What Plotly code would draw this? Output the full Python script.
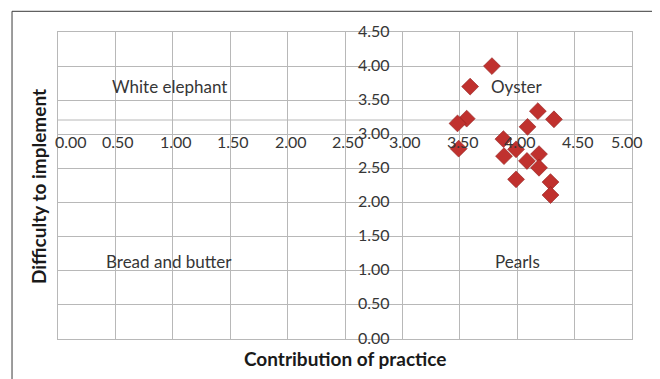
import plotly.graph_objects as go

# ---- data ----
contribution = [3.78, 3.59, 3.56, 3.48, 3.49, 4.18, 4.32, 4.09, 3.88, 3.99,
                3.885, 4.19, 4.085, 4.19, 3.99, 4.29, 4.29]
difficulty = [4.00, 3.70, 3.23, 3.16, 2.79, 3.34, 3.22, 3.11, 2.93, 2.78,
              2.68, 2.71, 2.61, 2.51, 2.34, 2.30, 2.11]

x_ticks = [0.0, 0.5, 1.0, 1.5, 2.0, 2.5, 3.0, 3.5, 4.0, 4.5, 5.0]
y_ticks = [0.0, 0.5, 1.0, 1.5, 2.0, 2.5, 3.0, 3.5, 4.0, 4.5]
x_tick_labels = ["0.00", "0.50", "1.00", "1.50", "2.00", "2.50", "3.00", "3.50", "4.00", "4.50", "5.00"]
y_tick_labels = ["0.00", "0.50", "1.00", "1.50", "2.00", "2.50", "3.00", "3.50", "4.00", "4.50"]

x_cross = 3.0        # where the vertical axis labels sit
y_cross = 3.0        # where the horizontal axis labels sit
h_axis_line = 3.21   # extra horizontal axis line

quadrant_names = ["White elephant", "Oyster", "Bread and butter", "Pearls"]
quadrant_x = [0.97, 4.0, 0.97, 4.0]
quadrant_y = [3.70, 3.70, 1.14, 1.14]

FONT = "Lato"
GRID = "#B8B8B8"
TXT = "#363636"

fig = go.Figure()
fig.add_trace(go.Scatter(
    x=contribution, y=difficulty, mode="markers",
    marker=dict(symbol="diamond", size=13, color="#C0312E",
                line=dict(color="#8E1F1C", width=0.6)),
    showlegend=False, hoverinfo="x+y"))

annotations = []
for v, t in zip(x_ticks, x_tick_labels):
    xa, xs = "center", 3
    if v == x_ticks[0]:
        xa, xs = "left", -5
    elif v == x_ticks[-1]:
        xs = -5
    annotations.append(dict(x=v, y=y_cross, xref="x", yref="y", text=t,
                            showarrow=False, xanchor=xa, yanchor="top",
                            xshift=xs, yshift=4,
                            font=dict(family=FONT, size=16, color=TXT)))
for v, t in zip(y_ticks, y_tick_labels):
    annotations.append(dict(x=x_cross, y=v, xref="x", yref="y", text=t,
                            showarrow=False, xanchor="right", yanchor="middle",
                            xshift=-10, yshift=2,
                            font=dict(family=FONT, size=16, color=TXT)))
for n, qx, qy in zip(quadrant_names, quadrant_x, quadrant_y):
    annotations.append(dict(x=qx, y=qy, xref="x", yref="y", text=n,
                            showarrow=False, xanchor="center", yanchor="middle",
                            font=dict(family=FONT, size=17, color=TXT)))

annotations.append(dict(x=0.5, y=-0.062, xref="paper", yref="paper",
                        text="<b>Contribution of practice</b>", showarrow=False,
                        xanchor="center", yanchor="middle",
                        font=dict(family=FONT, size=19, color="#1a1a1a")))
annotations.append(dict(x=-0.0348, y=0.495, xref="paper", yref="paper",
                        text="<b>Difficulty to implement</b>", showarrow=False,
                        textangle=-90, xanchor="center", yanchor="middle",
                        font=dict(family=FONT, size=19, color="#1a1a1a")))

shapes = [
    dict(type="line", xref="x", yref="y", x0=x_ticks[0], x1=x_ticks[-1],
         y0=h_axis_line, y1=h_axis_line, line=dict(color=GRID, width=1), layer="below"),
    dict(type="rect", xref="paper", yref="paper", x0=-0.0801, x1=1.0383,
         y0=-0.2, y1=1.0674, line=dict(color="#3a3a3a", width=1), layer="below"),
]

# page body has an 8px margin, so the figure is sized/offset to compensate
fig.update_layout(
    width=652, height=371,
    margin=dict(l=50, r=28, t=24, b=40),
    paper_bgcolor="white", plot_bgcolor="white",
    xaxis=dict(range=[0, 5], tickvals=x_ticks, showticklabels=False,
               showgrid=True, gridcolor=GRID, gridwidth=1, zeroline=False,
               showline=True, linecolor=GRID, linewidth=1, mirror=True, ticks=""),
    yaxis=dict(range=[0, 4.5], tickvals=y_ticks, showticklabels=False,
               showgrid=True, gridcolor=GRID, gridwidth=1, zeroline=False,
               showline=True, linecolor=GRID, linewidth=1, mirror=True, ticks=""),
    annotations=annotations, shapes=shapes,
)

fig.write_html("out.html")
